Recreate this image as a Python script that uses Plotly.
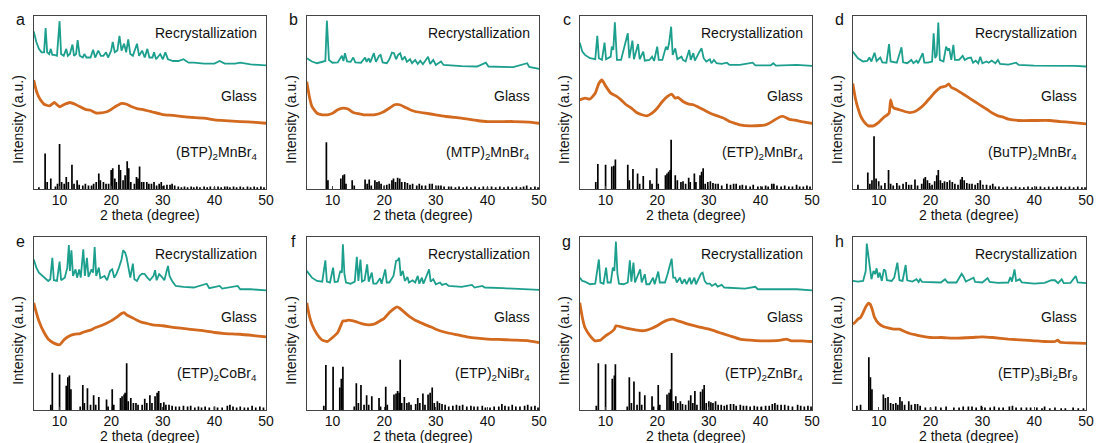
import plotly.graph_objects as go

W, H = 1103, 443
TEAL = "#1d9f8e"
ORANGE = "#d2691e"
FONT = "Liberation Sans, Arial, sans-serif"

# ---------------- (a) (BTP)2MnBr4 ----------------
a_recryst = [(5.0, 91), (5.5, 85), (6.0, 81), (6.5, 79), (7.0, 79), (7.3, 93), (7.6, 79), (8.0, 78),
             (8.3, 81), (8.6, 77.5), (9.0, 77.5), (9.5, 77), (10.0, 97), (10.3, 78), (10.8, 77),
             (11.3, 81), (11.6, 77), (12.0, 78), (12.5, 83.5), (12.8, 77), (13.2, 78), (13.5, 86),
             (13.9, 77), (14.5, 76), (14.8, 78), (15.2, 76), (16.0, 76), (16.5, 80.5), (16.9, 76),
             (17.5, 80), (18.0, 77), (18.5, 77), (19.0, 79), (19.4, 76), (20.0, 80), (20.3, 85),
             (20.7, 79), (21.2, 80), (21.6, 88.5), (22.0, 80), (22.5, 84), (22.9, 79), (23.3, 86.5),
             (23.7, 78), (24.2, 77), (24.6, 80), (25.0, 84), (25.4, 77), (26.0, 80), (26.5, 76),
             (27.0, 81), (27.4, 76), (28.0, 76), (28.3, 79), (28.7, 75), (29.5, 78), (30.0, 75),
             (30.5, 79), (31.0, 75), (32.0, 74), (33.0, 74), (34.0, 75), (35.0, 73), (36.0, 73),
             (38.0, 72.5), (40.0, 72.5), (41.0, 74), (42.0, 72.5), (44.0, 72.5), (45.0, 73),
             (47.0, 72), (50.0, 71.5)]
a_glass = [(5.0, 63), (5.3, 59), (5.7, 55), (6.2, 52), (7.0, 49), (8.0, 48), (9.0, 50), (10.0, 47.5),
           (11.0, 49), (12.0, 50), (13.0, 49), (14.0, 47.5), (15.0, 46), (16.0, 45.5), (17.0, 44),
           (18.0, 44), (19.0, 44.5), (20.0, 46), (21.0, 48), (22.0, 49.5), (23.0, 49), (24.0, 47.5),
           (25.0, 46.5), (26.0, 46), (28.0, 44.5), (30.0, 43), (32.0, 42.5), (35.0, 41.5),
           (38.0, 41), (40.0, 40), (42.0, 39.5), (45.0, 39), (48.0, 38.5), (50.0, 38)]
a_sticks = [(6.0, 1), (7.2, 20.5), (7.6, 4), (8.3, 6), (9.2, 1.5), (9.6, 3), (10.0, 26), (10.4, 4),
            (10.9, 3), (11.3, 7), (11.7, 4), (12.4, 14), (12.8, 3), (13.4, 5), (13.8, 2.5), (14.5, 2),
            (15.0, 3), (15.6, 2), (16.2, 2), (16.6, 3), (17.1, 4), (17.6, 9), (17.9, 5), (18.5, 4),
            (19.0, 3), (19.5, 3), (20.0, 11), (20.3, 12), (20.7, 6), (21.0, 4), (21.5, 14), (21.8, 11),
            (22.3, 5), (22.7, 8), (23.1, 16), (23.4, 12), (23.8, 4), (24.5, 3), (24.9, 7), (25.2, 6),
            (25.5, 13), (25.9, 4), (26.3, 4), (26.9, 4), (27.3, 3), (27.8, 3), (28.3, 4), (28.8, 2),
            (29.3, 3), (29.7, 4), (30.2, 2), (30.8, 2.5), (31.4, 2.5), (31.8, 3), (32.3, 2), (33.0, 1.5),
            (33.6, 1), (34.2, 1.5), (34.8, 1), (35.5, 1.5), (36.0, 1), (36.6, 1.5), (37.2, 1), (38.0, 1.5),
            (38.6, 1), (39.2, 1.5), (40.0, 1), (40.7, 1.5), (41.3, 1), (42.0, 1.5), (42.5, 1.5), (43.0, 1),
            (43.7, 1.5), (44.3, 1), (45.0, 1.5), (45.6, 1), (46.4, 1.5), (47.0, 1), (47.7, 1.5), (48.3, 1),
            (49.0, 1.5), (49.6, 1)]

# ---------------- (b) (MTP)2MnBr4 ----------------
b_recryst = [(5.0, 75.6), (6.0, 73.7), (7.0, 72.7), (8.0, 73.7), (8.6, 74), (8.9, 97.3), (9.3, 74.6),
             (10.0, 73), (11.0, 73.2), (11.8, 77), (12.1, 74), (12.4, 78.5), (12.8, 73.8), (13.5, 73.5),
             (14.0, 76), (14.4, 73.2), (15.5, 73), (16.3, 76), (16.6, 73.5), (17.0, 75.6), (17.3, 73.2),
             (18.0, 78.5), (18.4, 73.5), (19.0, 77), (19.3, 77.5), (19.7, 73.2), (20.5, 72.7), (21.0, 75),
             (21.5, 78.8), (21.9, 78.5), (22.3, 75), (22.7, 77.5), (23.1, 78.5), (23.5, 74.6), (24.0, 76.5),
             (24.4, 73.5), (25.0, 75), (25.4, 72.7), (26.0, 74.6), (26.5, 72.3), (27.0, 74.2), (27.5, 72.1),
             (28.5, 76.5), (28.9, 72.3), (29.5, 74.6), (30.0, 71.7), (31.0, 73.7), (31.5, 71.7),
             (33.0, 71.3), (35.0, 71), (38.0, 70.8), (39.7, 73), (40.2, 70.8), (42.0, 70.8), (45.0, 70.4),
             (47.7, 72.7), (48.1, 70.6), (50.0, 69.4)]
b_glass = [(5.0, 62), (5.5, 53.5), (6.0, 47.7), (7.0, 43.8), (8.0, 42.9), (9.0, 42.9), (10.0, 43.8),
           (11.0, 45.8), (12.0, 46.7), (13.0, 46.2), (14.0, 44.2), (15.0, 43.5), (16.0, 42.9),
           (17.0, 42.9), (18.0, 42.9), (19.0, 43.5), (20.0, 44.8), (21.0, 46.7), (22.0, 48.7),
           (23.0, 48.7), (24.0, 47.3), (25.0, 45.8), (26.0, 44.8), (28.0, 43.8), (30.0, 42.9),
           (32.0, 41.9), (35.0, 41), (38.0, 39.6), (40.0, 39), (45.0, 39), (48.0, 38.7), (50.0, 38)]
b_sticks = [(8.8, 27), (9.1, 5), (11.6, 6), (12.0, 8), (12.3, 8.5), (12.6, 3), (13.8, 5), (14.2, 2),
            (16.3, 5.5), (16.7, 3), (17.1, 5.5), (17.5, 2), (18.2, 5), (18.6, 4), (19.0, 4.5), (19.4, 3),
            (20.0, 2), (20.5, 2.5), (21.0, 3), (21.5, 5), (21.8, 6), (22.2, 4), (22.6, 6.5), (23.0, 6),
            (23.4, 4), (24.0, 4), (24.5, 3.5), (25.0, 2.5), (25.5, 3), (26.3, 2), (26.8, 3), (27.3, 2),
            (28.0, 2), (28.8, 3), (29.3, 3), (30.0, 2), (30.5, 2), (31.0, 2), (31.6, 1.5), (32.5, 1.5),
            (33.0, 1.5), (33.8, 1), (34.5, 1.5), (35.3, 1), (36.0, 1.5), (36.8, 1), (37.6, 1.5), (38.4, 1),
            (39.2, 1.5), (40.0, 1), (40.8, 1.5), (41.6, 1), (42.4, 1.5), (43.2, 1), (44.0, 1.5), (44.8, 1),
            (45.6, 1.5), (46.4, 1), (47.0, 1.5), (47.6, 2), (48.4, 1), (49.2, 1.5), (49.8, 1)]

# ---------------- (c) (ETP)2MnBr4 ----------------
c_recryst = [(5.0, 84.6), (5.5, 79.4), (6.0, 77.5), (7.0, 75.6), (8.0, 75), (8.4, 88.5), (8.7, 75.6),
             (9.3, 74.6), (9.8, 84.6), (10.1, 75), (11.0, 76.5), (11.2, 82.3), (11.5, 80.4), (11.8, 96.3),
             (12.2, 74.6), (13.0, 74.6), (14.3, 90), (14.6, 75.6), (15.2, 85.8), (15.5, 75), (16.3, 83.8),
             (16.6, 75), (17.3, 79.4), (17.6, 74.2), (18.5, 74.6), (19.0, 76.5), (19.4, 74), (20.0, 82.3),
             (20.3, 74.6), (21.0, 74.6), (21.7, 82.3), (22.0, 80.4), (22.3, 84.2), (22.7, 93.8),
             (23.0, 77.5), (23.5, 81.3), (23.9, 75), (24.7, 76.5), (25.0, 74.6), (25.5, 73.7),
             (26.2, 80.4), (26.5, 74.6), (27.0, 78.5), (27.3, 74.2), (28.2, 79.4), (28.6, 81.3),
             (29.0, 75.6), (29.5, 73.7), (30.2, 75), (30.5, 72.7), (31.0, 74.6), (31.5, 72.7),
             (32.5, 72.3), (33.5, 73), (34.0, 71.7), (36.0, 71.7), (38.5, 73), (39.0, 71.5), (42.0, 71.5),
             (42.5, 72.7), (43.0, 71.3), (45.0, 71.5), (47.0, 71.7), (50.0, 71.2)]
c_glass = [(5.0, 51.5), (6.0, 52.5), (7.0, 52), (8.0, 55.4), (8.7, 61), (9.3, 63), (10.0, 59.6),
           (11.0, 55.4), (12.0, 53.8), (13.0, 51.5), (14.0, 48.7), (15.0, 46.7), (16.0, 44.2),
           (17.0, 42.9), (18.0, 42.3), (19.0, 43.8), (20.0, 46.7), (21.0, 50.6), (22.0, 53.5),
           (22.8, 54.8), (23.5, 52.5), (24.0, 53), (25.0, 50.6), (26.0, 49.2), (27.0, 48.7),
           (28.0, 47.3), (29.0, 45.8), (30.0, 44.2), (31.0, 42.9), (32.0, 41.9), (33.0, 40.8),
           (34.0, 39), (35.0, 38), (36.0, 37.1), (38.0, 36.5), (40.0, 36.7), (41.0, 37.1), (42.0, 38.5),
           (43.0, 40.4), (44.0, 41.9), (44.5, 41.9), (45.5, 40.4), (47.0, 39.6), (48.0, 39), (50.0, 38)]
c_sticks = [(8.1, 4), (8.5, 14.5), (10.0, 14), (11.2, 13), (11.6, 13.5), (11.9, 17), (14.3, 14), (14.6, 5),
            (15.3, 11.5), (16.2, 9), (16.6, 3), (17.3, 7.5), (18.6, 5), (19.0, 3), (19.9, 12), (20.2, 3),
            (21.6, 8), (21.9, 9), (22.2, 10), (22.5, 11), (22.7, 28.5), (23.5, 8), (23.9, 5), (24.6, 4),
            (25.0, 4.5), (25.5, 3), (26.1, 6.5), (26.4, 4), (27.2, 9), (27.5, 4), (28.3, 8), (28.6, 10),
            (28.9, 12), (29.3, 3), (29.8, 4), (30.3, 4.5), (30.8, 3.5), (31.3, 3), (31.8, 3), (32.5, 2),
            (33.5, 3), (34.2, 2.5), (34.8, 3), (35.3, 3), (36.0, 2), (36.5, 2.5), (37.2, 2), (38.0, 1.5),
            (38.6, 2.5), (39.5, 1.5), (40.3, 1.5), (41.0, 2), (41.5, 1.5), (42.2, 3), (42.6, 3), (43.2, 2),
            (44.0, 1.5), (44.7, 2), (45.5, 1.5), (46.2, 1.5), (47.0, 2.5), (47.6, 1.5), (48.3, 1.5),
            (49.0, 2), (49.6, 1.5)]

# ---------------- (d) (BuTP)2MnBr4 ----------------
d_recryst = [(5.0, 79.4), (5.5, 77.5), (6.0, 75.6), (7.0, 73.7), (7.8, 74), (8.2, 76), (8.6, 73.7),
             (9.2, 78.8), (9.6, 74), (10.3, 76), (10.7, 73.2), (11.5, 73), (12.0, 83.7), (12.3, 73.7),
             (13.5, 73), (14.4, 81.9), (14.7, 73.2), (15.5, 72.7), (16.3, 74.6), (16.7, 72.7),
             (17.3, 74.2), (17.6, 72.7), (18.5, 78.5), (18.8, 73), (19.5, 73), (20.3, 73.7), (20.6, 90),
             (20.9, 75.6), (21.2, 77.5), (21.5, 96.2), (21.8, 74.6), (22.5, 73.7), (23.0, 82.3),
             (23.3, 80.4), (23.6, 81.3), (24.0, 74.6), (24.4, 83.3), (24.7, 74.6), (25.5, 74.6),
             (26.2, 77), (26.6, 74.6), (27.2, 75.6), (27.8, 76), (28.2, 73), (28.7, 74.2), (29.2, 72.7),
             (29.6, 76.5), (30.0, 72.7), (30.8, 73.7), (31.2, 73), (31.8, 74.2), (32.5, 72.7), (33.0, 74.6),
             (33.4, 72.3), (35.0, 71.9), (36.5, 73), (37.0, 71.7), (40.0, 71.3), (43.0, 71.3),
             (45.0, 71.2), (48.0, 71.2), (50.0, 70.8)]
d_glass = [(5.0, 61), (5.5, 52.5), (6.0, 46.7), (6.5, 42.3), (7.0, 39.6), (7.5, 37.7), (8.0, 36.5),
           (9.0, 36.5), (10.0, 38.5), (11.0, 41.5), (12.0, 43.8), (12.3, 51.5), (12.6, 48.1), (13.0, 46.7),
           (14.0, 45.8), (15.0, 44.8), (16.0, 44.2), (17.0, 44.8), (18.0, 46.7), (19.0, 49.6), (20.0, 53),
           (21.0, 56.3), (22.0, 58.8), (23.0, 59.6), (23.5, 60.8), (24.0, 58.8), (25.0, 57.3),
           (26.0, 55.4), (27.0, 53.5), (28.0, 51.5), (29.0, 49.6), (30.0, 47.7), (31.0, 45.8),
           (32.0, 43.8), (33.0, 42.3), (34.0, 41.5), (35.0, 40.4), (37.0, 39.6), (40.0, 39.6),
           (43.0, 39.6), (45.0, 39), (47.0, 38.5), (50.0, 37.7)]
d_sticks = [(6.0, 2.5), (7.9, 9.5), (8.3, 3), (8.7, 5), (9.1, 30.5), (9.5, 6), (10.0, 4.5), (10.5, 2),
            (11.2, 3.5), (11.9, 11), (12.3, 3), (12.8, 2), (13.5, 3.5), (14.0, 2), (14.7, 3), (15.3, 4),
            (15.8, 2.5), (16.3, 2.5), (17.0, 5.5), (17.5, 2), (18.3, 3), (18.7, 6), (19.0, 7), (19.4, 5),
            (19.8, 3.5), (20.3, 2.5), (20.8, 4.5), (21.2, 8), (21.5, 11), (21.9, 5), (22.3, 3.5),
            (22.7, 4.5), (23.2, 4), (23.7, 5), (24.2, 4), (24.7, 3), (25.3, 2.5), (25.8, 5.5), (26.1, 7),
            (26.5, 5), (27.0, 3.5), (27.5, 3), (28.0, 3), (28.6, 2.5), (29.1, 3.5), (29.6, 5), (30.1, 2.5),
            (30.8, 2.5), (31.5, 2), (32.0, 3), (32.5, 1.5), (33.2, 1.5), (34.0, 1), (34.8, 1.5), (35.6, 1),
            (36.4, 1.5), (37.2, 1), (38.0, 1), (38.8, 1.5), (39.6, 1), (40.4, 1.5), (41.2, 1.5), (42.0, 1),
            (42.8, 1.5), (43.6, 1), (44.4, 1.5), (45.2, 1.5), (46.0, 1), (46.8, 1.5), (47.6, 1),
            (48.4, 1.5), (49.2, 1), (49.8, 1)]

# ---------------- (e) (ETP)2CoBr4 ----------------
e_recryst = [(5.0, 87), (5.5, 82.3), (6.0, 79.4), (7.0, 76.5), (7.8, 74.6), (8.2, 75.6), (8.6, 88),
             (8.9, 75), (9.5, 74.6), (10.0, 85.8), (10.3, 75), (11.0, 76.5), (11.5, 82.3), (11.8, 95.4),
             (12.0, 80.4), (12.3, 92.3), (12.6, 77.5), (13.1, 81.3), (13.4, 76.5), (13.8, 81.3),
             (14.1, 76.5), (14.6, 92.9), (14.9, 77.5), (15.3, 88), (15.6, 76.9), (16.2, 81.3),
             (16.5, 79.4), (16.8, 94.2), (17.1, 77.5), (17.6, 82.3), (17.9, 76.2), (18.7, 77.5),
             (19.2, 75), (19.8, 80.4), (20.2, 81.3), (20.6, 76.5), (21.0, 78.5), (21.5, 82.3),
             (22.0, 87), (22.3, 92.3), (22.7, 91), (23.0, 88), (23.3, 82.3), (23.7, 76.5), (24.2, 84.6),
             (24.5, 75.6), (25.0, 74.6), (25.5, 77.5), (26.0, 78.8), (26.5, 78.5), (27.0, 76.5),
             (27.5, 75), (28.2, 77.5), (28.5, 80.8), (28.8, 75), (29.3, 78.5), (29.8, 77), (30.3, 75),
             (31.0, 83.3), (31.3, 77.5), (31.8, 74.6), (32.5, 71.7), (34.0, 71.2), (36.0, 70.8),
             (38.5, 73), (39.0, 70.4), (41.0, 71.7), (41.5, 70.2), (44.5, 71.7), (45.0, 69.8),
             (47.0, 69.8), (50.0, 69.2)]
e_glass = [(5.0, 62), (5.5, 56.3), (6.0, 51.5), (7.0, 44.8), (8.0, 40.4), (9.0, 38.5), (10.0, 37.7),
           (11.0, 41), (12.0, 42.9), (13.0, 43.8), (14.0, 44.2), (15.0, 45.4), (16.0, 46.2), (17.0, 47.7),
           (18.0, 48.7), (19.0, 50), (20.0, 51.5), (21.0, 53.5), (22.0, 55.8), (22.5, 56.3), (23.0, 55),
           (24.0, 53.5), (25.0, 51.9), (26.0, 50.6), (27.0, 50), (28.0, 49.2), (30.0, 48.7), (32.0, 47.7),
           (35.0, 46.7), (38.0, 45.8), (40.0, 44.8), (42.0, 44.2), (45.0, 43.8), (48.0, 42.9), (50.0, 42.3)]
e_sticks = [(8.3, 3), (8.6, 21.5), (10.0, 20.5), (11.3, 14), (11.6, 19), (11.9, 20), (12.2, 12), (14.0, 2),
            (14.5, 14.5), (14.8, 4), (15.4, 12.5), (16.0, 3), (16.6, 8.5), (17.0, 3), (17.6, 7.5), (19.1, 6),
            (19.4, 2), (20.2, 12), (20.5, 3), (21.8, 7), (22.1, 8), (22.5, 9), (22.7, 10), (23.0, 27),
            (23.3, 5), (23.8, 7), (24.3, 4), (24.8, 4), (25.2, 3), (26.0, 3), (26.5, 6.5), (26.9, 4),
            (27.5, 8.5), (27.9, 4), (28.5, 8), (28.9, 10), (29.2, 11), (29.6, 4), (30.2, 4.5), (30.6, 3),
            (31.2, 3), (31.8, 2.5), (32.5, 2), (33.2, 2), (34.0, 2.5), (34.8, 2), (35.4, 2.5), (36.2, 1.5),
            (36.9, 2), (37.5, 1.5), (38.2, 2), (39.0, 1.5), (40.0, 2), (40.6, 1.5), (41.5, 1.5), (42.5, 2.5),
            (43.0, 3), (43.6, 2), (44.3, 1.5), (45.0, 2), (45.8, 1.5), (46.5, 1.5), (47.3, 2.5), (48.0, 1.5),
            (48.8, 2), (49.5, 1.5)]

# ---------------- (f) (ETP)2NiBr4 ----------------
f_recryst = [(5.0, 80.4), (5.5, 78.1), (6.0, 76.5), (7.0, 74.6), (8.0, 74.2), (8.6, 86.5), (8.9, 74.2),
             (9.5, 73.7), (10.1, 82.3), (10.4, 74), (11.0, 74.2), (11.5, 80.4), (11.8, 79.4), (12.0, 95.8),
             (12.3, 78.5), (12.6, 73.7), (13.5, 73), (14.3, 74.2), (14.7, 88.5), (15.0, 74.6), (15.4, 87),
             (15.7, 74.2), (16.2, 75), (16.7, 84.2), (17.0, 74.2), (17.6, 79.4), (17.9, 73), (18.5, 73),
             (19.2, 76.2), (19.5, 73), (20.2, 81.3), (20.5, 73.7), (21.0, 73.7), (21.8, 77.5), (22.3, 86.2),
             (22.6, 86.5), (22.9, 88), (23.2, 77.5), (23.6, 80.4), (24.0, 74.6), (24.5, 76.9), (24.8, 73.7),
             (25.5, 75), (26.0, 73.7), (26.5, 77.5), (26.8, 73), (27.3, 76.5), (27.6, 73), (28.3, 78.5),
             (28.7, 81.3), (29.0, 74.2), (29.5, 75.6), (30.0, 72.7), (30.8, 73.7), (31.2, 72.3),
             (32.0, 73), (32.5, 71.7), (35.0, 71.2), (37.0, 72.3), (37.5, 70.8), (39.0, 71.7), (39.5, 70.8),
             (43.0, 70.4), (45.0, 70.2), (50.0, 69.4)]
f_glass = [(5.0, 62), (5.5, 54.4), (6.0, 49.6), (7.0, 43.8), (8.0, 40.4), (9.0, 39.6), (10.0, 41.9),
           (11.0, 44.8), (11.5, 48.1), (12.0, 51.5), (12.5, 51.5), (13.0, 51.9), (14.0, 51.5), (15.0, 50.6),
           (16.0, 49.6), (17.0, 49.2), (18.0, 49.6), (19.0, 51.2), (20.0, 53), (21.0, 56.3), (22.0, 58.8),
           (22.5, 59.6), (23.0, 58.8), (24.0, 56.3), (25.0, 53.8), (26.0, 51.9), (27.0, 50.6),
           (28.0, 49.2), (29.0, 48.1), (30.0, 46.7), (32.0, 44.8), (34.0, 43.5), (36.0, 42.3),
           (38.0, 41.5), (40.0, 41), (42.0, 40.8), (45.0, 40.4), (48.0, 40), (50.0, 39)]
f_sticks = [(8.3, 2.5), (8.7, 26), (10.1, 25), (11.4, 13), (11.7, 18), (12.0, 25), (14.2, 2), (14.6, 15.5),
            (15.0, 4), (15.5, 14.5), (16.1, 3), (16.6, 8.5), (17.0, 3), (17.6, 8), (19.0, 7), (19.3, 2),
            (20.3, 13.5), (20.6, 3), (21.9, 9), (22.3, 9.5), (22.6, 11), (22.9, 10), (23.1, 29), (23.4, 4),
            (23.9, 7.5), (24.4, 4), (24.8, 4.5), (25.2, 3), (26.1, 3.5), (26.5, 7), (26.9, 4), (27.5, 9.5),
            (27.9, 3), (28.5, 9), (28.9, 10), (29.3, 13), (29.7, 4), (30.3, 5), (30.7, 4), (31.2, 3.5),
            (31.8, 3), (32.5, 2), (33.3, 2.5), (34.0, 3), (34.6, 2.5), (35.2, 3), (36.0, 2), (36.8, 2.5),
            (37.4, 2), (38.1, 2), (39.0, 2.5), (39.6, 1.5), (40.5, 1.5), (41.3, 2), (42.2, 2), (42.8, 3.5),
            (43.4, 2.5), (44.1, 2), (44.8, 3), (45.5, 2), (46.3, 2), (47.2, 2.5), (47.8, 3), (48.5, 2),
            (49.2, 2.5), (49.8, 1.5)]

# ---------------- (g) (ETP)2ZnBr4 ----------------
g_recryst = [(5.0, 76.5), (5.5, 74.6), (6.0, 74.2), (7.0, 72.7), (8.0, 73), (8.7, 87), (9.0, 73.7),
             (9.6, 73), (10.1, 82.3), (10.4, 73.7), (11.0, 73.7), (11.4, 82.3), (11.7, 80.4), (12.0, 97.3),
             (12.3, 78.5), (12.6, 73), (13.5, 72.7), (14.3, 73.7), (14.7, 86.5), (15.0, 74.2), (15.4, 85.2),
             (15.7, 73.7), (16.7, 81.3), (17.0, 73.7), (17.6, 78.5), (17.9, 72.7), (18.5, 72.7),
             (19.2, 76.5), (19.5, 72.7), (20.2, 80), (20.5, 73.7), (21.5, 73.7), (22.0, 78.5), (22.4, 83.3),
             (22.8, 87.5), (23.1, 76.5), (23.5, 76.5), (23.8, 73.7), (24.4, 76.5), (24.8, 73), (25.3, 75.6),
             (25.7, 72.7), (26.3, 76.5), (26.6, 72.7), (27.2, 76.5), (27.5, 72.7), (28.5, 78.8),
             (28.8, 79.4), (29.2, 74.6), (29.6, 73), (30.2, 73), (30.6, 71.7), (31.3, 73), (31.7, 71.3),
             (32.5, 72.3), (33.0, 70.8), (35.0, 70.4), (37.0, 70.2), (39.0, 71.2), (39.5, 69.8),
             (42.0, 69.8), (45.0, 69.8), (47.0, 69.8), (50.0, 69.2)]
g_glass = [(5.0, 62), (5.5, 53.5), (6.0, 47.7), (7.0, 42.9), (8.0, 40), (9.0, 40.4), (10.0, 42.9),
           (11.0, 44.8), (11.7, 46.7), (12.0, 48.7), (13.0, 48.1), (14.0, 47.3), (15.0, 46.7), (16.0, 46.2),
           (17.0, 45.8), (18.0, 46.2), (19.0, 47.3), (20.0, 48.7), (21.0, 50.6), (22.0, 51.9), (23.0, 52.5),
           (24.0, 51.5), (25.0, 50.6), (26.0, 49.6), (28.0, 48.1), (30.0, 46.7), (32.0, 44.8),
           (34.0, 42.9), (36.0, 41), (38.0, 40.4), (40.0, 40), (42.0, 40), (44.0, 40.4), (45.0, 41),
           (46.0, 40), (48.0, 40), (50.0, 39.6)]
g_sticks = [(8.2, 2.5), (8.6, 27), (10.0, 26.5), (11.3, 18), (11.7, 20), (11.9, 26.5), (14.2, 2), (14.6, 19),
            (15.0, 4), (15.5, 16.5), (16.1, 3), (16.6, 10.5), (17.0, 3), (17.6, 8.5), (19.0, 8), (19.3, 2),
            (20.2, 14.5), (20.5, 3), (21.9, 9), (22.3, 10), (22.6, 12), (22.8, 33), (23.1, 5), (23.6, 8),
            (24.0, 4), (24.5, 5), (24.9, 3.5), (25.5, 3), (26.1, 5.5), (26.5, 8.5), (26.9, 4), (27.3, 11),
            (27.7, 3), (28.4, 10.5), (28.8, 12), (29.1, 14.5), (29.5, 4), (30.0, 5), (30.4, 4.5), (30.8, 4),
            (31.3, 5), (31.8, 3), (32.4, 3), (33.0, 2.5), (33.5, 3), (34.2, 3.5), (34.8, 3.5), (35.3, 2.5),
            (36.1, 3), (36.7, 2.5), (37.3, 2.5), (38.0, 2), (38.8, 2.5), (39.4, 2), (40.2, 2), (41.0, 2.5),
            (41.7, 2.5), (42.3, 3.5), (42.8, 4), (43.3, 3), (44.0, 3), (44.7, 3), (45.4, 2.5), (46.2, 2),
            (47.2, 3), (47.8, 2.5), (48.5, 2), (49.2, 2.5), (49.8, 2)]

# ---------------- (h) (ETP)3Bi2Br9 ----------------
h_recryst = [(5.0, 74.6), (6.0, 74.2), (7.0, 74.6), (7.5, 80.4), (7.7, 96.2), (8.0, 90), (8.3, 82.3),
             (8.6, 75.6), (9.0, 80.4), (9.3, 78.5), (9.6, 81.9), (9.9, 76.5), (10.2, 79.4), (10.6, 74.6),
             (11.0, 81.3), (11.3, 80.4), (11.6, 75), (12.5, 74.6), (13.0, 76.5), (13.6, 85.2), (14.0, 75),
             (14.6, 74.6), (15.2, 83.8), (15.5, 75), (16.5, 74.2), (17.3, 75.6), (17.7, 74), (18.0, 75.6),
             (18.4, 74), (20.0, 73.7), (22.0, 73.7), (22.8, 75.6), (23.3, 73.7), (25.0, 73.7), (26.0, 78.8),
             (26.4, 76.9), (26.8, 74.2), (28.3, 76.5), (28.6, 74), (30.0, 73.7), (31.0, 76.2), (31.4, 74),
             (33.0, 73.5), (35.0, 73.7), (35.4, 76.9), (35.7, 74.2), (36.2, 81.3), (36.5, 74.6),
             (37.2, 75.6), (37.6, 73.7), (40.0, 73), (42.0, 73.5), (43.3, 75), (44.0, 75), (44.6, 73.3),
             (45.3, 75.6), (45.7, 73.3), (47.0, 73.5), (48.0, 77.5), (48.4, 73.7), (49.0, 73.7),
             (50.0, 73.3)]
h_glass = [(5.0, 49.6), (5.5, 50.9), (6.0, 52.5), (6.5, 53.5), (7.0, 56.3), (7.5, 59.6), (8.0, 61.7),
           (8.4, 61), (8.8, 57.7), (9.2, 53.5), (10.0, 50), (11.0, 48.1), (12.0, 47.3), (13.0, 46.7),
           (14.0, 46.7), (15.0, 45.4), (16.0, 44.2), (17.0, 43.5), (18.0, 42.9), (20.0, 41.9), (22.0, 41.9),
           (25.0, 41.5), (28.0, 41.9), (30.0, 42.3), (32.0, 41.9), (35.0, 41), (38.0, 40.4), (40.0, 40),
           (42.0, 39.6), (44.0, 39.6), (44.5, 40.4), (45.0, 39.2), (47.0, 38.8), (50.0, 38.5)]
h_sticks = [(5.8, 2.5), (6.5, 3), (8.1, 30.5), (8.4, 19), (8.7, 12), (10.9, 9), (11.3, 7), (11.8, 7.5),
            (12.3, 4), (12.8, 3.5), (13.3, 4), (13.7, 3), (14.1, 7.5), (14.5, 5), (15.0, 3), (15.8, 5),
            (16.3, 3), (17.0, 3.5), (17.5, 3.5), (18.0, 2.5), (19.0, 1.5), (20.0, 1.5), (21.0, 2), (22.0, 1.5),
            (23.0, 2), (24.5, 1.5), (25.5, 1.5), (26.3, 2), (27.3, 2), (28.0, 2), (28.8, 1.5), (29.8, 2.5),
            (30.5, 1.5), (31.5, 1.5), (32.3, 2), (33.2, 1.5), (34.0, 1.5), (35.2, 2), (35.8, 2.5),
            (36.5, 1.5), (37.5, 1.5), (38.5, 1.5), (39.3, 1.5), (40.5, 1.5), (41.5, 1), (42.0, 2), (43.0, 1),
            (44.0, 1.5), (45.2, 1), (46.0, 1), (47.5, 1.5), (48.5, 1), (49.5, 1)]

x_ticks = [10, 20, 30, 40, 50]

panels = [
    ("a", "(BTP)<sub>2</sub>MnBr<sub>4</sub>", a_recryst, a_glass, a_sticks),
    ("b", "(MTP)<sub>2</sub>MnBr<sub>4</sub>", b_recryst, b_glass, b_sticks),
    ("c", "(ETP)<sub>2</sub>MnBr<sub>4</sub>", c_recryst, c_glass, c_sticks),
    ("d", "(BuTP)<sub>2</sub>MnBr<sub>4</sub>", d_recryst, d_glass, d_sticks),
    ("e", "(ETP)<sub>2</sub>CoBr<sub>4</sub>", e_recryst, e_glass, e_sticks),
    ("f", "(ETP)<sub>2</sub>NiBr<sub>4</sub>", f_recryst, f_glass, f_sticks),
    ("g", "(ETP)<sub>2</sub>ZnBr<sub>4</sub>", g_recryst, g_glass, g_sticks),
    ("h", "(ETP)<sub>3</sub>Bi<sub>2</sub>Br<sub>9</sub>", h_recryst, h_glass, h_sticks),
]

# plot-area frames in pixels
col_left = [34, 309, 584, 859]
col_right = [268, 543, 818, 1094]
row_top = [16, 237]
row_bottom = [189, 410]

fig = go.Figure()
annotations = []
layout_axes = {}

for i, (letter, compound, recryst, glass, sticks) in enumerate(panels):
    r, c = divmod(i, 4)
    n = i + 1
    xa = "x" if n == 1 else f"x{n}"
    ya = "y" if n == 1 else f"y{n}"

    fig.add_trace(go.Scatter(x=[p[0] for p in recryst], y=[p[1] for p in recryst], mode="lines",
                             line=dict(color=TEAL, width=1.8), xaxis=xa, yaxis=ya, showlegend=False))
    fig.add_trace(go.Scatter(x=[p[0] for p in glass], y=[p[1] for p in glass], mode="lines",
                             line=dict(color=ORANGE, width=2.8, shape="spline", smoothing=0.4),
                             xaxis=xa, yaxis=ya, showlegend=False))
    sx, sy = [], []
    for pos, h in sticks:
        sx += [pos, pos, None]
        sy += [0, h, None]
    fig.add_trace(go.Scatter(x=sx, y=sy, mode="lines", line=dict(color="black", width=1.7),
                             xaxis=xa, yaxis=ya, showlegend=False))

    x0, x1 = col_left[c] / W, col_right[c] / W
    y0, y1 = 1 - row_bottom[r] / H, 1 - row_top[r] / H
    axis_common = dict(showline=True, linecolor="#444", linewidth=1, mirror=True,
                       showgrid=False, zeroline=False)
    layout_axes["xaxis" if n == 1 else f"xaxis{n}"] = dict(
        domain=[x0, x1], range=[5, 50], anchor=ya, tickvals=x_ticks, ticks="inside", ticklen=3,
        tickcolor="#444", ticklabelstandoff=-2,
        tickfont=dict(size=14, color="#111", family=FONT), **axis_common)
    layout_axes["yaxis" if n == 1 else f"yaxis{n}"] = dict(
        domain=[y0, y1], range=[0, 100], anchor=xa, showticklabels=False, ticks="", **axis_common)

    # series labels
    for text, yv in (("Recrystallization", 90), ("Glass", 54), (compound, 20.8)):
        annotations.append(dict(text=text, x=48.6, y=yv, xref=xa, yref=ya, xanchor="right",
                                yanchor="middle", showarrow=False,
                                font=dict(size=14, color="#111", family=FONT)))
    # panel letter
    annotations.append(dict(text=letter, x=(col_left[c] - 13) / W, y=1 - (row_top[r] + 4) / H,
                            xref="paper", yref="paper", xanchor="center", yanchor="middle",
                            showarrow=False, font=dict(size=16, color="#111", family=FONT)))
    # axis titles
    annotations.append(dict(text="2 theta (degree)", x=(col_left[c] + col_right[c]) / 2 / W,
                            y=1 - (row_bottom[r] + 26) / H, xref="paper", yref="paper",
                            xanchor="center", yanchor="middle", showarrow=False,
                            font=dict(size=14, color="#111", family=FONT)))
    annotations.append(dict(text="Intensity (a.u.)", x=(col_left[c] - 16) / W,
                            y=1 - (row_top[r] + 103) / H, xref="paper", yref="paper",
                            xanchor="center", yanchor="middle", textangle=-90, showarrow=False,
                            font=dict(size=14, color="#111", family=FONT)))

fig.update_layout(width=W, height=H, margin=dict(l=0, r=0, t=0, b=0),
                  paper_bgcolor="white", plot_bgcolor="white",
                  annotations=annotations, **layout_axes)

fig.write_html("out.html")
